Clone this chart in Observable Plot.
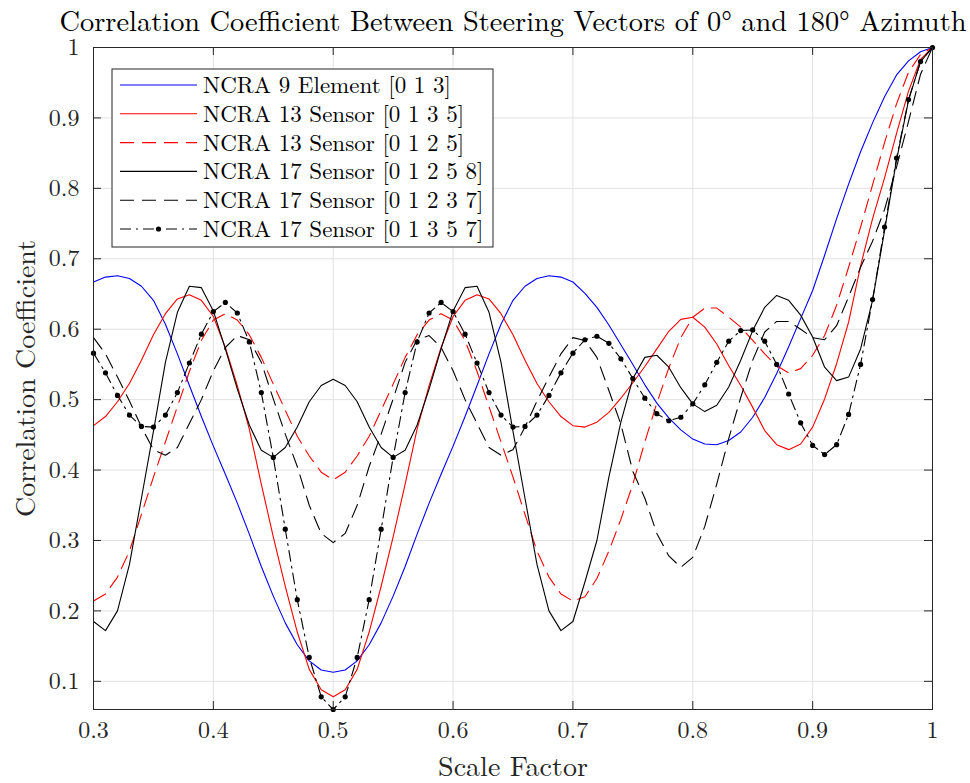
<!DOCTYPE html>
<html>
<head>
<meta charset="utf-8">
<script src="https://cdn.jsdelivr.net/npm/d3@7"></script>
<script src="https://cdn.jsdelivr.net/npm/@observablehq/plot@0.6"></script>
<style>
  body { margin: 0; background: #fff; }
  #chart { width: 970px; height: 783px; }
</style>
</head>
<body>
<div id="chart"></div>
<script>
// Scale factor samples (x axis)
const scaleFactor = [
  0.30, 0.31, 0.32, 0.33, 0.34, 0.35, 0.36, 0.37, 0.38, 0.39,
  0.40, 0.41, 0.42, 0.43, 0.44, 0.45, 0.46, 0.47, 0.48, 0.49,
  0.50, 0.51, 0.52, 0.53, 0.54, 0.55, 0.56, 0.57, 0.58, 0.59,
  0.60, 0.61, 0.62, 0.63, 0.64, 0.65, 0.66, 0.67, 0.68, 0.69,
  0.70, 0.71, 0.72, 0.73, 0.74, 0.75, 0.76, 0.77, 0.78, 0.79,
  0.80, 0.81, 0.82, 0.83, 0.84, 0.85, 0.86, 0.87, 0.88, 0.89,
  0.90, 0.91, 0.92, 0.93, 0.94, 0.95, 0.96, 0.97, 0.98, 0.99, 1.00
];

// Correlation coefficient of the 0° and 180° steering vectors, per array
const ncra9_013 = [
  0.667, 0.674, 0.676, 0.672, 0.661, 0.641, 0.607, 0.565, 0.520, 0.476,
  0.434, 0.394, 0.353, 0.309, 0.263, 0.221, 0.183, 0.152, 0.129, 0.116,
  0.113, 0.116, 0.129, 0.152, 0.183, 0.221, 0.263, 0.309, 0.353, 0.394,
  0.434, 0.476, 0.520, 0.565, 0.607, 0.641, 0.661, 0.672, 0.676, 0.674,
  0.667, 0.651, 0.631, 0.606, 0.578, 0.550, 0.521, 0.495, 0.474, 0.457,
  0.444, 0.437, 0.436, 0.442, 0.454, 0.475, 0.503, 0.537, 0.575, 0.615,
  0.655, 0.705, 0.757, 0.806, 0.852, 0.893, 0.930, 0.961, 0.981, 0.994, 1.000
];
const ncra13_0135 = [
  0.463, 0.476, 0.497, 0.523, 0.556, 0.592, 0.622, 0.643, 0.649, 0.641,
  0.618, 0.574, 0.520, 0.458, 0.380, 0.305, 0.235, 0.170, 0.117, 0.088,
  0.078, 0.088, 0.117, 0.170, 0.235, 0.305, 0.380, 0.458, 0.520, 0.574,
  0.618, 0.641, 0.649, 0.643, 0.622, 0.592, 0.556, 0.523, 0.497, 0.476,
  0.463, 0.461, 0.468, 0.482, 0.502, 0.524, 0.547, 0.572, 0.597, 0.614,
  0.617, 0.603, 0.579, 0.548, 0.520, 0.489, 0.456, 0.436, 0.429, 0.437,
  0.461, 0.501, 0.551, 0.610, 0.690, 0.757, 0.815, 0.878, 0.938, 0.983, 1.000
];
const ncra13_0125 = [
  0.214, 0.224, 0.248, 0.285, 0.337, 0.390, 0.440, 0.490, 0.540, 0.584,
  0.613, 0.622, 0.613, 0.592, 0.560, 0.522, 0.485, 0.448, 0.420, 0.397,
  0.386, 0.397, 0.420, 0.448, 0.485, 0.522, 0.560, 0.592, 0.613, 0.622,
  0.613, 0.584, 0.540, 0.490, 0.440, 0.390, 0.337, 0.285, 0.248, 0.224,
  0.214, 0.220, 0.246, 0.285, 0.330, 0.380, 0.440, 0.495, 0.545, 0.588,
  0.617, 0.630, 0.630, 0.617, 0.603, 0.584, 0.565, 0.548, 0.538, 0.544,
  0.563, 0.591, 0.634, 0.688, 0.745, 0.805, 0.865, 0.920, 0.965, 0.990, 1.000
];
const ncra17_01258 = [
  0.185, 0.172, 0.200, 0.266, 0.360, 0.455, 0.553, 0.624, 0.661, 0.659,
  0.626, 0.572, 0.515, 0.464, 0.428, 0.418, 0.432, 0.461, 0.497, 0.520,
  0.529, 0.520, 0.497, 0.461, 0.432, 0.418, 0.428, 0.464, 0.515, 0.572,
  0.626, 0.659, 0.661, 0.624, 0.553, 0.455, 0.360, 0.266, 0.200, 0.172,
  0.185, 0.241, 0.300, 0.390, 0.468, 0.530, 0.560, 0.563, 0.546, 0.517,
  0.494, 0.483, 0.492, 0.518, 0.556, 0.598, 0.631, 0.648, 0.641, 0.620,
  0.589, 0.546, 0.527, 0.532, 0.572, 0.641, 0.740, 0.840, 0.925, 0.980, 1.000
];
const ncra17_01237 = [
  0.588, 0.565, 0.532, 0.498, 0.461, 0.429, 0.421, 0.432, 0.466, 0.500,
  0.541, 0.574, 0.591, 0.585, 0.553, 0.501, 0.451, 0.405, 0.350, 0.310,
  0.297, 0.310, 0.350, 0.405, 0.451, 0.501, 0.553, 0.585, 0.591, 0.574,
  0.541, 0.500, 0.466, 0.432, 0.421, 0.429, 0.461, 0.498, 0.532, 0.565,
  0.588, 0.584, 0.560, 0.513, 0.465, 0.398, 0.360, 0.310, 0.278, 0.262,
  0.276, 0.320, 0.380, 0.445, 0.503, 0.556, 0.596, 0.611, 0.611, 0.600,
  0.588, 0.585, 0.605, 0.646, 0.688, 0.725, 0.770, 0.830, 0.895, 0.962, 1.000
];
const ncra17_01357 = [
  0.566, 0.538, 0.506, 0.478, 0.462, 0.461, 0.478, 0.510, 0.552, 0.593,
  0.625, 0.638, 0.623, 0.582, 0.510, 0.418, 0.316, 0.216, 0.134, 0.078,
  0.060, 0.078, 0.134, 0.216, 0.316, 0.418, 0.510, 0.582, 0.623, 0.638,
  0.625, 0.593, 0.552, 0.510, 0.478, 0.461, 0.462, 0.478, 0.506, 0.538,
  0.566, 0.585, 0.590, 0.580, 0.558, 0.530, 0.502, 0.480, 0.470, 0.475,
  0.494, 0.521, 0.553, 0.583, 0.598, 0.599, 0.583, 0.550, 0.508, 0.467,
  0.435, 0.422, 0.436, 0.479, 0.550, 0.642, 0.745, 0.843, 0.926, 0.980, 1.000
];

const seriesLabels = [
  "NCRA 9 Element [0 1 3]",
  "NCRA 13 Sensor [0 1 3 5]",
  "NCRA 13 Sensor [0 1 2 5]",
  "NCRA 17 Sensor [0 1 2 5 8]",
  "NCRA 17 Sensor [0 1 2 3 7]",
  "NCRA 17 Sensor [0 1 3 5 7]"
];
const xTicks = [0.3, 0.4, 0.5, 0.6, 0.7, 0.8, 0.9, 1];
const yTicks = [0.1, 0.2, 0.3, 0.4, 0.5, 0.6, 0.7, 0.8, 0.9, 1];
const titleText = "Correlation Coefficient Between Steering Vectors of 0° and 180° Azimuth";
const xLabel = "Scale Factor";
const yLabel = "Correlation Coefficient";

// Line styles for each array
const DASH = "14,8";
const DASHDOT = "11,5,2,5";
const styles = [
  {stroke: "#0000ff", dash: null, marker: false},
  {stroke: "#ff0000", dash: null, marker: false},
  {stroke: "#ff0000", dash: DASH, marker: false},
  {stroke: "#000000", dash: null, marker: false},
  {stroke: "#000000", dash: DASH, marker: false},
  {stroke: "#000000", dash: DASHDOT, marker: true}
];
const allValues = [ncra9_013, ncra13_0135, ncra13_0125, ncra17_01258, ncra17_01237, ncra17_01357];
const series = allValues.map((vals, k) => ({
  label: seriesLabels[k],
  ...styles[k],
  rows: vals.map((v, i) => ({x: scaleFactor[i], y: v}))
}));

const FONT = "'Latin Modern Roman', 'CMU Serif', 'Liberation Serif', serif";
const W = 970, H = 783;
const mL = 93, mR = 38, mT = 47, mB = 74;
const innerW = W - mL - mR, innerH = H - mT - mB;
const AXIS = "#262626";
const GRID = "#e2e2e2";
const yMin = d3.min(allValues.flat());
const fmt = d => String(+d.toFixed(1));

const marks = [
  Plot.ruleX(xTicks, {stroke: GRID, strokeWidth: 1}),
  Plot.ruleY(yTicks, {stroke: GRID, strokeWidth: 1}),
  ...series.map(s => Plot.line(s.rows, {
    x: "x", y: "y", stroke: s.stroke, strokeWidth: 1.1,
    strokeDasharray: s.dash || undefined, curve: "linear"
  })),
  ...series.filter(s => s.marker).map(s => Plot.dot(s.rows, {
    x: "x", y: "y", r: 2.6, fill: s.stroke, stroke: "none"
  })),
  Plot.frame({stroke: AXIS, strokeWidth: 1}),
  // inward ticks on all four sides
  Plot.ruleX(xTicks, {stroke: AXIS, insetTop: innerH - 8}),
  Plot.ruleX(xTicks, {stroke: AXIS, insetBottom: innerH - 8}),
  Plot.ruleY(yTicks, {stroke: AXIS, insetRight: innerW - 8}),
  Plot.ruleY(yTicks, {stroke: AXIS, insetLeft: innerW - 8}),
  Plot.axisX(xTicks, {tickSize: 0, tickPadding: 11, tickFormat: fmt, fontSize: 24, label: null}),
  Plot.axisY(yTicks, {tickSize: 0, tickPadding: 14, tickFormat: fmt, fontSize: 24, label: null}),
  Plot.text([titleText], {text: d => d, frameAnchor: "top", dy: -26, fontSize: 28.4,
    textAnchor: "middle", lineAnchor: "middle", fill: "#000"}),
  Plot.text([xLabel], {text: d => d, frameAnchor: "bottom", dy: 58, fontSize: 28,
    textAnchor: "middle", lineAnchor: "middle", fill: AXIS}),
  Plot.text([yLabel], {text: d => d, frameAnchor: "left", dx: -67, rotate: -90, fontSize: 28,
    textAnchor: "middle", lineAnchor: "middle", fill: AXIS})
];

const chart = Plot.plot({
  width: W, height: H,
  marginLeft: mL, marginRight: mR, marginTop: mT, marginBottom: mB,
  x: {domain: [0.3, 1], axis: null},
  y: {domain: [yMin, 1], axis: null},
  style: {fontFamily: FONT, fontSize: "24px", color: AXIS, background: "#fff", overflow: "visible"},
  marks
});

// Legend box drawn into the same SVG, top-left inside the plot area
const svg = d3.select(chart);
const lg = svg.append("g").attr("transform", "translate(112,69)");
lg.append("rect").attr("width", 381).attr("height", 178)
  .attr("fill", "#fff").attr("stroke", AXIS).attr("stroke-width", 1);
series.forEach((s, i) => {
  const y = 16 + i * 28.8;
  lg.append("line").attr("x1", 8).attr("x2", 85).attr("y1", y).attr("y2", y)
    .attr("stroke", s.stroke).attr("stroke-width", 1.1)
    .attr("stroke-dasharray", s.dash || null);
  if (s.marker) lg.append("circle").attr("cx", 46.5).attr("cy", y).attr("r", 2.6).attr("fill", s.stroke);
  lg.append("text").attr("x", 91).attr("y", y).attr("dy", "0.35em")
    .attr("text-anchor", "start")
    .attr("font-family", FONT).attr("font-size", 23).attr("fill", "#000").text(s.label);
});

document.getElementById("chart").appendChild(chart);
</script>
</body>
</html>
